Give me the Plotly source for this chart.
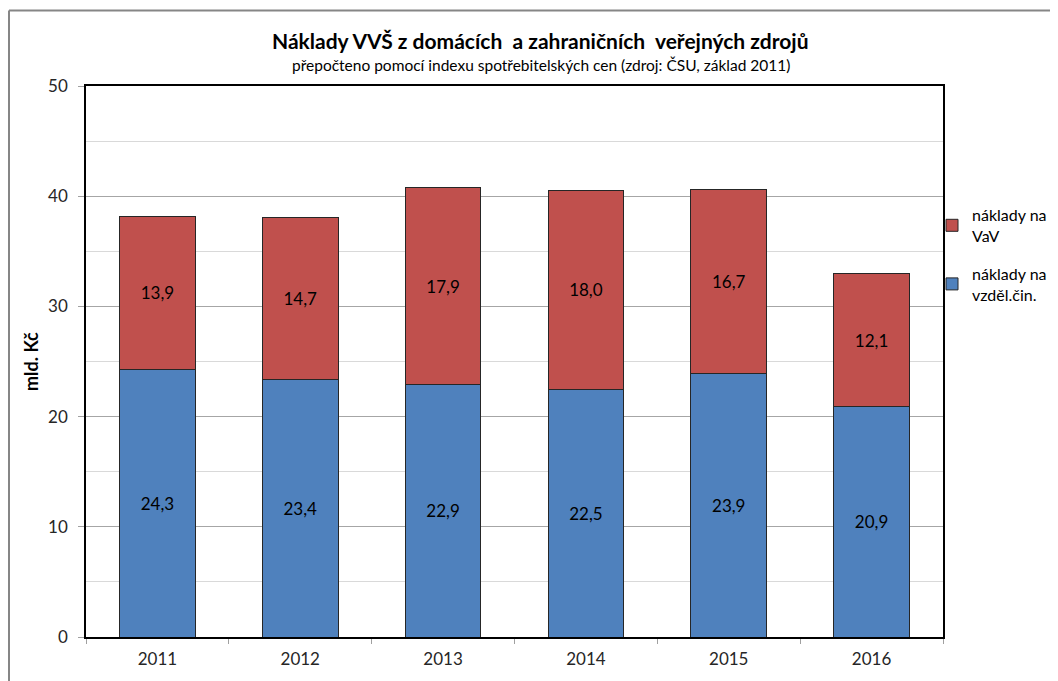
import plotly.graph_objects as go

years = ["2011", "2012", "2013", "2014", "2015", "2016"]
vzdel = [24.3, 23.4, 22.9, 22.5, 23.9, 20.9]
vav = [13.9, 14.7, 17.9, 18.0, 16.7, 12.1]
name_vzdel = "náklady na<br>vzděl.čin."
name_vav = "náklady na<br>VaV"

FONT = "Lato, 'Open Sans', sans-serif"

fig = go.Figure()
for vals, name, color, grp, rank in [(vzdel, name_vzdel, "#4f81bd", "g2", 2),
                                     (vav, name_vav, "#c0504d", "g1", 1)]:
    fig.add_trace(go.Bar(
        x=years, y=vals, name=name, legendgroup=grp, legendrank=rank,
        marker=dict(color=color, line=dict(color="#262626", width=1)),
        texttemplate="%{y:.1f}", textposition="inside", insidetextanchor="middle",
        textangle=0, textfont=dict(color="#000000", size=17, family=FONT),
    ))

# page body has an 8px margin; work in page pixels and shift
OFF = 8
W, H = 1058 - OFF, 681 - OFF
L, R, T, B = 86 - OFF, 943 - OFF, 86 - OFF, 637 - OFF
pw, ph = R - L, B - T

def px_x(x):
    return (x - OFF - L) / pw

def px_y(y):
    return (B - (y - OFF)) / ph

fig.update_layout(
    width=W, height=H,
    margin=dict(l=L, r=W - R, t=T, b=H - B, pad=0, autoexpand=False),
    barmode="stack", bargap=0.47,
    separators=", ",
    plot_bgcolor="white", paper_bgcolor="white",
    font=dict(family=FONT, size=17, color="#000000"),
    showlegend=True,
    legend=dict(
        xref="container", yref="container",
        x=(932 - OFF) / W, y=1 - (198 - OFF) / H, xanchor="left", yanchor="top",
        traceorder="grouped", font=dict(size=16, family=FONT, color="#000000"),
        itemwidth=30, tracegroupgap=14, bgcolor="rgba(0,0,0,0)",
    ),
    xaxis=dict(
        showline=True, linecolor="#000000", linewidth=1.5, mirror=True,
        ticks="outside", tickson="boundaries", ticklen=5, tickcolor="#a0a0a0",
        tickfont=dict(size=17, color="#262626"), showgrid=False, automargin=False,
        ticklabelstandoff=6,
    ),
    yaxis=dict(
        range=[0, 50], dtick=10, showline=True, linecolor="#000000", linewidth=1.5,
        mirror=True, ticks="outside", ticklen=6, tickcolor="#a0a0a0",
        tickfont=dict(size=17, color="#262626"),
        showgrid=True, gridcolor="#a6a6a6", gridwidth=1, zeroline=False,
        minor=dict(dtick=5, showgrid=True, gridcolor="#d9d9d9", gridwidth=1),
        automargin=False, ticklabelstandoff=7,
    ),
    annotations=[
        dict(text="<b>Náklady VVŠ z domácích  a zahraničních  veřejných zdrojů</b>",
             xref="paper", yref="paper", x=px_x(540), y=px_y(40),
             xanchor="center", yanchor="middle", showarrow=False,
             font=dict(size=21, family=FONT, color="#000000")),
        dict(text="přepočteno pomocí indexu spotřebitelských cen (zdroj: ČSU, základ 2011)",
             xref="paper", yref="paper", x=px_x(541), y=px_y(65),
             xanchor="center", yanchor="middle", showarrow=False,
             font=dict(size=15.5, family=FONT, color="#000000")),
        dict(text="<b>mld. Kč</b>", textangle=-90,
             xref="paper", yref="paper", x=px_x(31), y=px_y(362),
             xanchor="center", yanchor="middle", showarrow=False,
             font=dict(size=18, family=FONT, color="#000000")),
    ],
    shapes=[
        dict(type="line", xref="paper", yref="paper",
             x0=px_x(9), x1=px_x(1080), y0=px_y(10.5), y1=px_y(10.5),
             line=dict(color="#868686", width=2)),
        dict(type="line", xref="paper", yref="paper",
             x0=px_x(9), x1=px_x(9), y0=px_y(10.5), y1=px_y(700),
             line=dict(color="#868686", width=2)),
    ],
)

fig.write_html("out.html")
